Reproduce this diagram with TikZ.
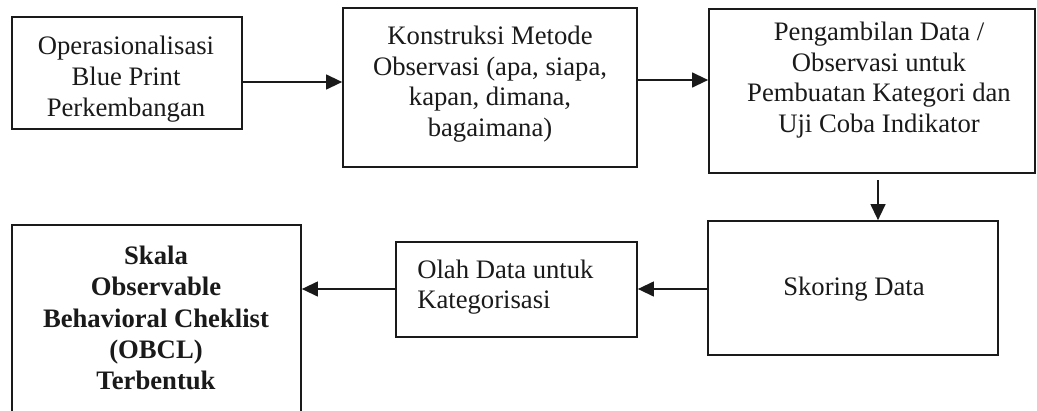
\documentclass[tikz,border=0pt]{standalone}
\usepackage{fontspec}
\setmainfont{Liberation Serif}
\usetikzlibrary{arrows.meta}
\definecolor{ink}{HTML}{1A1A1A}
\begin{document}
\begin{tikzpicture}[x=0.75pt,y=-0.75pt,
  box/.style={draw=ink, line width=1.2pt, fill=white, inner sep=0pt},
  txt/.style={text=ink, font=\fontsize{20}{23}\selectfont, align=center, inner sep=0pt},
  btxt/.style={txt, font=\fontsize{20}{23.5}\selectfont\bfseries},
  arr/.style={draw=ink, line width=1.6pt, -{Triangle[length=12pt,width=11pt]}}]
\useasboundingbox (0,0) rectangle (1037,410);
\clip (0,0) rectangle (1037,410);
% boxes
\node[box, minimum width=172.5pt, minimum height=84pt] (b1) at (127,73) {};
\node[box, minimum width=220.5pt, minimum height=119.25pt] (b2) at (490,87.5) {};
\node[box, minimum width=244.5pt, minimum height=123pt] (b3) at (872,91) {};
\node[box, minimum width=217.5pt, minimum height=100.5pt] (b4) at (853,288) {};
\node[box, minimum width=180.75pt, minimum height=71.25pt] (b5) at (516.5,289.5) {};
\node[box, minimum width=216.75pt, minimum height=165pt] (b6) at (156.5,335) {};
% texts
\node[txt] (t1) at (126,79) {Operasionalisasi\\Blue Print\\Perkembangan};
\node[txt] (t2) at (490,84) {Konstruksi Metode\\Observasi (apa, siapa,\\kapan, dimana,\\bagaimana)};
\node[txt] (t3) at (879,80) {Pengambilan Data /\\Observasi untuk\\Pembuatan Kategori dan\\Uji Coba Indikator};
\node[txt] (t4) at (854,289) {Skoring Data};
\node[txt, align=left, anchor=west] (t5) at (417,287) {Olah Data untuk\\Kategorisasi};
\node[btxt] (t6) at (156,318) {Skala\\Observable\\Behavioral Cheklist\\(OBCL)\\Terbentuk};
% connectors
\draw[arr] (b1.east |- 0,82) -- (b2.west |- 0,82);
\draw[arr] (b2.east |- 0,80) -- (b3.west |- 0,80);
\draw[arr, shorten <=5pt] (b3.south -| 878,0) -- (b4.north -| 878,0);
\draw[arr] (b4.west |- 0,289) -- (b5.east |- 0,289);
\draw[arr] (b5.west |- 0,289) -- (b6.east |- 0,289);
\end{tikzpicture}
\end{document}
